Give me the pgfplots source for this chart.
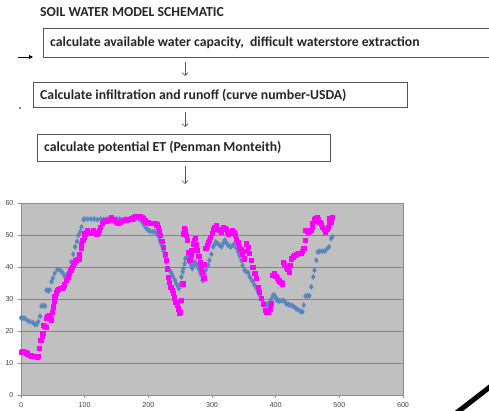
\documentclass[border=0pt]{standalone}
\usepackage{pgfplots}
\pgfplotsset{compat=1.18}
\usepackage{fontspec}
\setmainfont{Carlito}
\newfontfamily\arialf{Liberation Sans}
\usetikzlibrary{arrows.meta}
\definecolor{bgray}{HTML}{C0C0C0}
\definecolor{gridc}{HTML}{858585}
\definecolor{axc}{HTML}{8C8C8C}
\definecolor{xblue}{HTML}{5A85BF}
\definecolor{xmag}{HTML}{FF00FF}
\definecolor{boxc}{HTML}{555555}
\definecolor{txtc}{HTML}{262626}
\begin{document}
\begin{tikzpicture}
\path[use as bounding box] (0,0) rectangle (489bp,-411bp);
% flowchart
\node[anchor=west,inner sep=0,text=txtc,font=\fontsize{13.8}{14}\selectfont\bfseries] at (40bp,-12.5bp) {SOIL WATER MODEL SCHEMATIC};
\draw[boxc,line width=1bp] (495bp,-28.5bp) -- (43bp,-28.5bp) -- (43bp,-57bp) -- (495bp,-57bp);
\node[anchor=west,inner sep=0,text=txtc,font=\fontsize{13.8}{14}\selectfont\bfseries] at (50bp,-42.5bp) {calculate available water capacity,\ \ difficult waterstore extraction};
\draw[boxc,line width=1bp] (33bp,-82bp) rectangle (407bp,-107.5bp);
\node[anchor=west,inner sep=0,text=txtc,font=\fontsize{13.8}{14}\selectfont\bfseries] at (40bp,-95.5bp) {Calculate infiltration and runoff (curve number-USDA)};
\draw[boxc,line width=1bp] (37bp,-134bp) rectangle (330bp,-161bp);
\node[anchor=west,inner sep=0,text=txtc,font=\fontsize{13.8}{14}\selectfont\bfseries] at (44bp,-147bp) {calculate potential ET (Penman Monteith)};
\draw[boxc,line width=0.7bp,-{Straight Barb[length=3bp,width=6bp]}] (185bp,-62bp) -- (185bp,-76bp);
\draw[boxc,line width=0.7bp,-{Straight Barb[length=3bp,width=6bp]}] (185bp,-112bp) -- (185bp,-127bp);
\draw[boxc,line width=0.7bp,-{Straight Barb[length=3bp,width=6bp]}] (185bp,-166bp) -- (185bp,-184bp);
\draw[black,line width=1bp,-{Triangle[length=4bp,width=4bp]}] (18bp,-57bp) -- (33bp,-57bp);
\fill[black] (20bp,-108bp) circle (0.8bp);
\draw[black,line width=5bp] (455bp,-414bp) -- (495bp,-383bp);
% chart
\begin{axis}[
  at={(21bp,-395bp)}, anchor=south west,
  scale only axis, width=382bp, height=192bp,
  xmin=0, xmax=600, ymin=0, ymax=60,
  xtick={0,100,...,600}, ytick={0,10,...,60},
  axis background/.style={fill=bgray},
  axis line style={draw=axc, line width=0.8bp},
  ymajorgrids, grid style={draw=gridc, line width=0.9bp},
  tick align=outside, major tick length=3bp,
  xtick pos=bottom, ytick pos=left,
  tick style={draw=axc, line width=0.6bp},
  ticklabel style={font=\arialf\fontsize{7.2}{8}\selectfont, text=black!75},
  /pgf/number format/assume math mode=true,
  xticklabel style={yshift=-0.5bp},
  yticklabel style={xshift=-1bp},
]
\addplot[only marks, mark=diamond*, mark size=2.6bp, color=xblue] coordinates {
(0,24.1)(3,24)(6,24)(10,23.3)(14,22.9)(19,22.6)(22,22)(25,22.1)(27,22.9)(30,24.6)(32,27.8)(35,28)(38,27.8)(40,32.8)(43,32.5)(45,32.8)(48,35.4)(50,36.5)(53,38)(57,39.2)(61,39)(64,38.5)(66,38)(69,36.9)(72,37.5)(74,38)(77,39.5)(79,41.6)(82,44)(85,46.3)(88,48)(90,49.9)(93,51)(95,52.5)(98,54.8)(100,55)(105,55)(110,55)(115,55)(120,54.8)(125,55)(130,54.9)(135,55)(140,55)(145,54.8)(150,55)(155,55)(160,54.8)(165,55)(170,55)(175,54.9)(180,55)(185,55)(187,55)(190,54.2)(192,53.6)(195,52.6)(197,52)(200,51.5)(202,51.3)(206,51)(210,51)(213,50.5)(215,49.9)(218,48.5)(221,46.8)(224,45)(226,43.2)(228,41.5)(230,39.5)(233,39)(235,38.5)(237,37.8)(239,36.9)(242,35.8)(244,34.8)(246,34)(248,33.3)(250,34.5)(252,36.9)(254,38.5)(255,39.5)(257,41)(258,42.6)(260,43)(262,43.2)(264,42)(266,41.1)(268,40)(269,39.5)(271,40.5)(273,41.6)(275,41)(277,40.6)(279,39.5)(281,38.5)(283,37.5)(285,35.9)(287,35.9)(289,37.5)(290,39)(292,40)(294,40.6)(296,42.1)(299,44)(302,46.3)(304,47)(306,47.8)(309,47.3)(312,46.8)(315,46.3)(318,47.5)(320,48.4)(323,47.5)(325,46.8)(328,46.5)(330,46.3)(333,46.8)(336,47.3)(338,46)(341,44.7)(343,43.5)(346,42.1)(348,40.5)(351,39)(354,38.5)(357,38.2)(359,37)(362,36)(364,35.4)(367,34.3)(370,33.3)(372,32.3)(375,31.2)(377,30.2)(380,29.1)(383,28.5)(385,28.1)(388,28.5)(391,28.8)(393,30)(396,31.2)(398,31.2)(400,30.5)(402,29.6)(404,29.5)(406,29.4)(409,29.5)(412,29.6)(415,29)(417,28.4)(420,28.3)(422,28.1)(425,28)(427,27.8)(430,27.4)(432,27)(435,26.7)(438,26.3)(440,26.1)(442,26)(444,28.1)(447,30.9)(450,31)(453,31)(456,33.8)(459,36.9)(461,39)(464,42.1)(466,44.7)(469,44.9)(473,44.9)(477,44.9)(481,45.8)(484,46.3)(487,48.9)(489,49.4)
};
\addplot[only marks, mark=square*, mark size=2.1bp, color=xmag] coordinates {
(0,13.5)(2,13.6)(4,13.7)(6,13.5)(8,13.2)(10,12.9)(13,12.5)(16,12.3)(19,12.2)(22,12.1)(25,12)(27,12.2)(29,14.6)(31,17.2)(33,18.5)(34,19.2)(35,21.8)(37,21.5)(39,21.3)(40,23.9)(42,24.5)(44,25)(46,24)(47,23.4)(49,26)(50,27.6)(52,29.5)(53,30.7)(55,32)(57,32.8)(59,33)(61,33.3)(64,33.5)(66,33.8)(68,34.5)(71,35.9)(74,36.9)(76,38)(78,39)(80,40)(82,40.6)(84,41.5)(86,42.1)(89,42.4)(91,42.6)(92,44)(94,45.8)(95,47)(97,48.4)(99,49.5)(100,50.4)(102,51)(104,51.5)(106,51)(108,50.6)(111,51)(113,51.5)(116,50.8)(119,50.2)(121,50.8)(123,51.5)(125,52.5)(127,53.6)(130,54.3)(133,54.5)(137,54.6)(140,55)(142,55.6)(145,55)(147,54.6)(150,54)(153,53.6)(155,54)(158,54.4)(162,54.6)(166,54.8)(170,55)(174,55.1)(177,55.5)(179,55.8)(183,55.8)(187,55.8)(190,55.4)(192,55.1)(195,54.5)(197,54.1)(200,53.9)(202,53.8)(206,53.8)(210,53.8)(213,53.2)(215,52.5)(217,51.2)(219,49.9)(221,48)(223,46.3)(226,44)(228,42.1)(230,39.5)(231,36.9)(233,35.3)(235,33.8)(237,32.8)(239,31.7)(241,30.4)(243,29.1)(245,28)(247,27)(249,25.5)(250,26)(252,29.6)(254,34.8)(255,50.4)(256,52)(258,51.5)(260,50)(261,48.4)(263,44.7)(265,42.1)(267,43.8)(268,45.2)(270,47.3)(272,48.2)(273,48.9)(275,47)(277,45.2)(279,43.4)(281,41.6)(283,40)(285,38.5)(287,36.4)(288,41)(290,45.8)(292,46.8)(294,47.8)(296,48.5)(297,49.4)(300,50.5)(302,51.7)(304,52.4)(306,53)(309,51.9)(312,51.5)(315,51)(318,52.5)(320,52)(322,51.7)(324,51)(326,50.4)(329,51)(332,51.5)(334,50.7)(336,49.9)(338,48.8)(341,47.8)(343,46.3)(345,45.5)(348,44)(351,42.6)(353,45)(354,47.3)(357,46.3)(359,44.2)(362,42.1)(364,40)(367,38)(369,36.4)(372,33.8)(374,32.2)(377,30.2)(380,28.4)(383,26.5)(386,26)(388,26)(391,27)(393,28.6)(395,37.4)(398,38)(400,37.2)(402,36.4)(404,36)(406,35.7)(408,35.2)(410,34.8)(412,41.6)(414,40.8)(417,40)(419,39.2)(421,38.5)(423,40.5)(425,42.6)(428,43.2)(430,43.7)(433,44)(435,44.4)(438,44.3)(440,44.2)(442,45)(444,45.8)(446,48.4)(447,51.5)(449,51.2)(451,51)(453,51.2)(455,51.5)(457,52.6)(458,53.8)(460,54.3)(461,54.8)(463,55.1)(465,55.4)(467,54.8)(469,54.1)(471,53.3)(473,52.5)(476,51.7)(478,51)(480,51.7)(482,52.5)(484,54)(485,55.1)(487,54.1)(489,55.6)
};
\end{axis}
\end{tikzpicture}
\end{document}
